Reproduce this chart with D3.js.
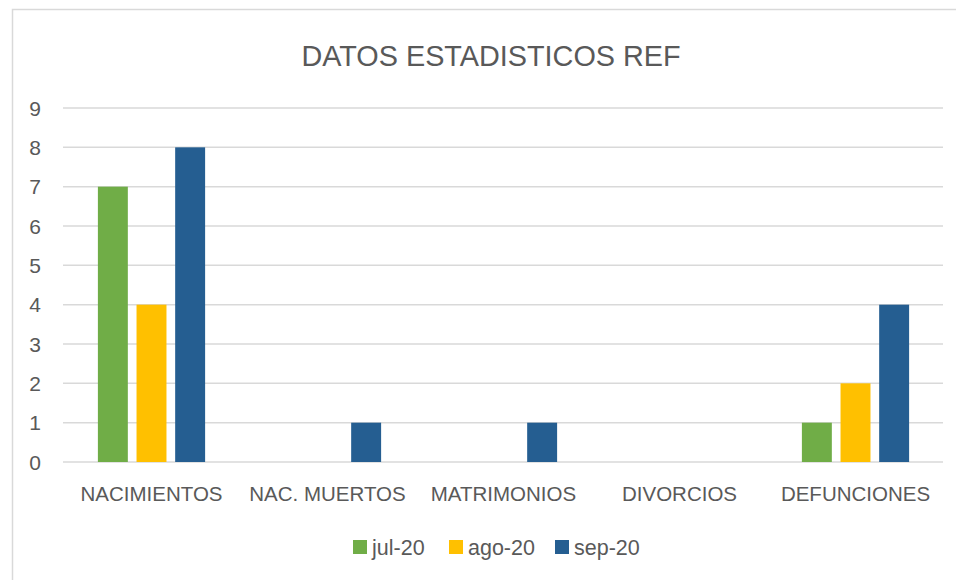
<!DOCTYPE html>
<html>
<head>
	<script src="https://d3js.org/d3.v7.min.js"></script>
	<style>
		body { margin: 0; background: #fff; }
		text { font-family: "Liberation Sans", Arial, sans-serif; fill: #595959; }
	</style>
</head>
<body>
<svg id="container"></svg>
<script>
// data
let categories = ['NACIMIENTOS', 'NAC. MUERTOS', 'MATRIMONIOS', 'DIVORCIOS', 'DEFUNCIONES'];
let series = ['jul-20', 'ago-20', 'sep-20'];
let jul20 = [7, 0, 0, 0, 1];
let ago20 = [4, 0, 0, 0, 2];
let sep20 = [8, 1, 1, 0, 4];
let yTicks = [0, 1, 2, 3, 4, 5, 6, 7, 8, 9];
let colors = ['#70AD47', '#FFC000', '#255E91'];

let values = [jul20, ago20, sep20];

let svg = d3.select('#container')
	.attr('width', 956)
	.attr('height', 580);

// chart border
svg.append('rect')
	.attr('x', 12.5)
	.attr('y', 9.5)
	.attr('width', 960)
	.attr('height', 600)
	.attr('fill', 'white')
	.attr('stroke', '#d9d9d9')
	.attr('stroke-width', 1.5);

svg.append('text')
	.attr('x', 491)
	.attr('y', 66)
	.attr('text-anchor', 'middle')
	.style('font-size', '28.8px')
	.text('DATOS ESTADISTICOS REF');

let x0 = d3.scaleBand()
	.domain(categories)
	.range([63.5, 943.5]);

let x1 = d3.scaleBand()
	.domain(series)
	.range([0, x0.bandwidth()])
	.paddingInner(0.225)
	.paddingOuter(0.89);

let y = d3.scaleLinear()
	.domain([0, 9])
	.range([462, 108]);

// gridlines
svg.append('g')
	.selectAll('line')
	.data(yTicks)
	.enter()
	.append('line')
	.attr('x1', 63)
	.attr('x2', 943)
	.attr('y1', (d) => { return y(d) })
	.attr('y2', (d) => { return y(d) })
	.attr('stroke', '#d9d9d9')
	.attr('stroke-width', 1.5);

// y labels
svg.append('g')
	.selectAll('text')
	.data(yTicks)
	.enter()
	.append('text')
	.attr('x', 41)
	.attr('y', (d) => { return y(d) + 7.5 })
	.attr('text-anchor', 'end')
	.style('font-size', '21px')
	.text((d) => { return d });

// bars
series.forEach((s, i) => {
	svg.append('g')
		.selectAll('rect')
		.data(values[i])
		.enter()
		.append('rect')
		.attr('x', (d, j) => { return x0(categories[j]) + x1(s) })
		.attr('y', (d) => { return y(d) })
		.attr('width', x1.bandwidth())
		.attr('height', (d) => { return y(0) - y(d) })
		.attr('fill', colors[i]);
});

// category labels
svg.append('g')
	.selectAll('text')
	.data(categories)
	.enter()
	.append('text')
	.attr('x', (d) => { return x0(d) + x0.bandwidth() / 2 })
	.attr('y', 501)
	.attr('text-anchor', 'middle')
	.style('font-size', '20.5px')
	.text((d) => { return d });

// legend
let legendX = [353, 449, 555];
let legend = svg.append('g');
series.forEach((s, i) => {
	legend.append('rect')
		.attr('x', legendX[i])
		.attr('y', 540)
		.attr('width', 14)
		.attr('height', 14)
		.attr('fill', colors[i]);
	legend.append('text')
		.attr('x', legendX[i] + 19)
		.attr('y', 555)
		.style('font-size', '21.5px')
		.text(s);
});
</script>
</body>
</html>
